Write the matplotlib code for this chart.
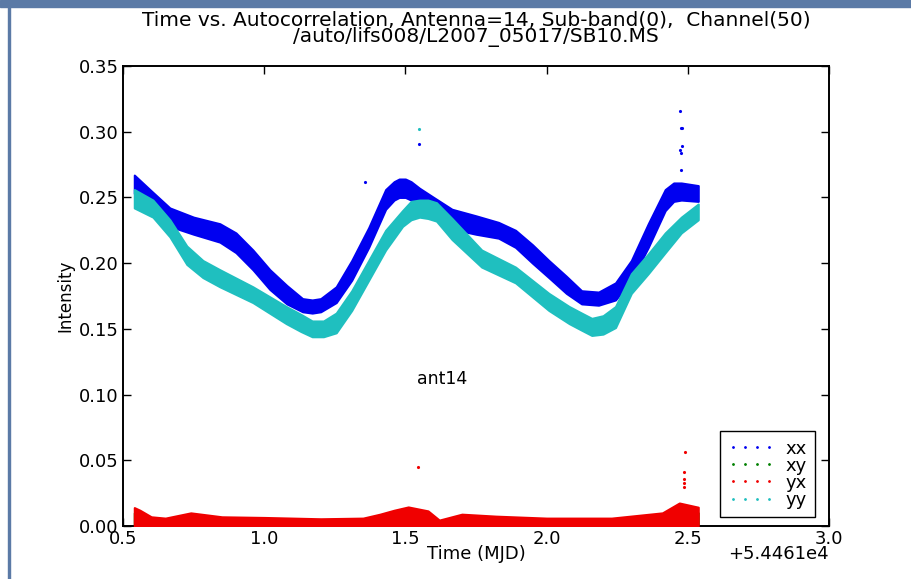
import numpy as np
import matplotlib
matplotlib.use('Agg')
import matplotlib.pyplot as plt
from matplotlib.lines import Line2D
from matplotlib.patches import Rectangle

#### DATA

MJD_BASE = 54461.

# xx : blue band
xx_t = [0.54, 0.60, 0.666, 0.75, 0.843, 0.90, 0.96, 1.02, 1.08, 1.136, 1.17, 1.20, 1.255, 1.31, 1.37,
        1.43, 1.46, 1.478, 1.50, 1.52, 1.55, 1.60, 1.665, 1.75, 1.83, 1.89, 1.95, 2.008, 2.07, 2.124, 2.184,
        2.244, 2.30, 2.36, 2.42, 2.45, 2.477, 2.537]
xx_lo = [0.253, 0.240, 0.228, 0.222, 0.216, 0.208, 0.195, 0.180, 0.169, 0.163, 0.162, 0.163, 0.170, 0.187, 0.212,
         0.241, 0.248, 0.250, 0.250, 0.248, 0.243, 0.236, 0.226, 0.222, 0.219, 0.212, 0.200, 0.189, 0.177, 0.169, 0.168,
         0.172, 0.187, 0.212, 0.240, 0.247, 0.248, 0.247]
xx_hi = [0.267, 0.255, 0.242, 0.235, 0.230, 0.223, 0.210, 0.195, 0.183, 0.173, 0.172, 0.173, 0.182, 0.202, 0.227,
         0.256, 0.262, 0.264, 0.264, 0.262, 0.257, 0.250, 0.241, 0.236, 0.231, 0.225, 0.214, 0.202, 0.190, 0.179, 0.178,
         0.185, 0.202, 0.230, 0.256, 0.261, 0.261, 0.259]

# yy : cyan band
yy_t = [0.54, 0.606, 0.666, 0.726, 0.783, 0.843, 0.96, 1.078, 1.13, 1.17, 1.21, 1.255, 1.31, 1.37, 1.43, 1.49,
        1.52, 1.55, 1.58, 1.61, 1.665, 1.77, 1.89, 2.008, 2.08, 2.124, 2.16, 2.20, 2.244, 2.30, 2.36, 2.42,
        2.477, 2.537]
yy_lo = [0.242, 0.235, 0.220, 0.199, 0.189, 0.182, 0.170, 0.154, 0.148, 0.144, 0.144, 0.147, 0.164, 0.187, 0.210, 0.228,
         0.233, 0.235, 0.234, 0.232, 0.218, 0.197, 0.185, 0.164, 0.154, 0.149, 0.145, 0.146, 0.151, 0.177, 0.192, 0.208,
         0.223, 0.233]
yy_hi = [0.256, 0.248, 0.233, 0.213, 0.202, 0.195, 0.182, 0.167, 0.161, 0.156, 0.156, 0.162, 0.179, 0.202, 0.225, 0.240,
         0.247, 0.248, 0.248, 0.246, 0.234, 0.210, 0.197, 0.177, 0.167, 0.162, 0.158, 0.160, 0.167, 0.192, 0.207, 0.223,
         0.235, 0.245]

# yx : red band (xy lies underneath)
yx_t = [0.54, 0.56, 0.60, 0.65, 0.74, 0.85, 1.00, 1.20, 1.35, 1.41, 1.46, 1.51, 1.58, 1.62, 1.70, 1.82,
        2.00, 2.23, 2.41, 2.47, 2.537]
yx_hi = [0.014, 0.012, 0.007, 0.006, 0.010, 0.007, 0.0065, 0.0055, 0.006, 0.009, 0.012, 0.0145, 0.0115, 0.0045, 0.009, 0.0075,
         0.006, 0.006, 0.010, 0.0175, 0.0143]
xy_hi = [0.010, 0.009, 0.005, 0.004, 0.007, 0.005, 0.0045, 0.004, 0.004, 0.006, 0.008, 0.010, 0.008, 0.003, 0.006, 0.005,
         0.004, 0.004, 0.007, 0.012, 0.010]

# stray points
xx_out_t = [1.358, 1.549, 2.474, 2.476, 2.480, 2.474, 2.476, 2.477, 2.479]
xx_out_v = [0.262, 0.2906, 0.316, 0.303, 0.303, 0.286, 0.284, 0.271, 0.289]
yy_out_t = [1.549]
yy_out_v = [0.302]
yx_out_t = [1.545, 2.490, 2.485, 2.485, 2.486, 2.487]
yx_out_v = [0.045, 0.056, 0.041, 0.033, 0.030, 0.036]

labels = ['xx', 'xy', 'yx', 'yy']
colors = ['#0000f0', '#008000', '#f00000', '#1fbfbf']


#### PLOT

fg = plt.figure(figsize=(9.11, 5.79), dpi=100)
fg.patch.set_facecolor('white')

# document frame around the screenshot
fg.patches.append(Rectangle((0, 1 - 7/579.), 1, 7/579., transform=fg.transFigure, color='#5b7aa6', zorder=0))
fg.patches.append(Rectangle((7.5/911., 0), 2.5/911., 1, transform=fg.transFigure, color='#5b7aa6', zorder=0))

ax = fg.add_axes([123/911., 53/579., 706/911., 460/579.])

def mjd(t):
	return MJD_BASE + np.array(t)

ax.fill_between(mjd(xx_t), xx_lo, xx_hi, color=colors[0], lw=1.5, zorder=2)
ax.fill_between(mjd(yx_t), 0, xy_hi, color=colors[1], lw=1.5, zorder=2)
ax.fill_between(mjd(yx_t), 0, yx_hi, color=colors[2], lw=1.5, zorder=3)
ax.fill_between(mjd(yy_t), yy_lo, yy_hi, color=colors[3], lw=1.5, zorder=4)

ax.plot(mjd(xx_out_t), xx_out_v, ls='none', marker='.', ms=2.5, color=colors[0])
ax.plot(mjd(yy_out_t), yy_out_v, ls='none', marker='.', ms=2.5, color=colors[3])
ax.plot(mjd(yx_out_t), yx_out_v, ls='none', marker='.', ms=2.5, color=colors[2])

ax.set_xlim(MJD_BASE + 0.5, MJD_BASE + 3.0)
ax.set_ylim(0, 0.35)
ax.set_xticks(MJD_BASE + np.array([0.5, 1.0, 1.5, 2.0, 2.5, 3.0]))
ax.set_yticks([0.0, 0.05, 0.10, 0.15, 0.20, 0.25, 0.30, 0.35])
ax.yaxis.set_major_formatter(matplotlib.ticker.FormatStrFormatter('%.2f'))
fmt = matplotlib.ticker.ScalarFormatter(useOffset=MJD_BASE)
ax.xaxis.set_major_formatter(fmt)

ax.tick_params(direction='in', top=True, right=True, length=6, width=1, labelsize=13, pad=3)
for sp in ax.spines.values():
	sp.set_linewidth(1.4)

ax.set_xlabel('Time (MJD)', fontsize=13, labelpad=-2)
ax.set_ylabel('Intensity', fontsize=12, labelpad=3)
ax.set_title('Time vs. Autocorrelation, Antenna=14, Sub-band(0),  Channel(50)\n/auto/lifs008/L2007_05017/SB10.MS',
	fontsize=14.5, linespacing=0.85, pad=17)

ax.text(MJD_BASE + 1.54, 0.108, 'ant14', fontsize=12.5)

handles = [Line2D([], [], ls='none', marker='.', ms=2, color=c) for c in colors]
leg = ax.legend(handles, labels, loc='lower right', bbox_to_anchor=(0.980, 0.0196), borderaxespad=0,
	numpoints=4, handlelength=2.6, fontsize=13, fancybox=False, framealpha=1, edgecolor='black',
	labelspacing=-0.05, borderpad=0.45, handletextpad=0.6)
leg.get_frame().set_linewidth(1.0)

# offset text of the time axis, placed where the reference has it
fg.canvas.draw()
ax.xaxis.get_offset_text().set_visible(False)
ax.text(1.0, -0.0415, fmt.get_offset(), transform=ax.transAxes, ha='right', va='top', fontsize=13)

plt.savefig('out.png', dpi=100)
